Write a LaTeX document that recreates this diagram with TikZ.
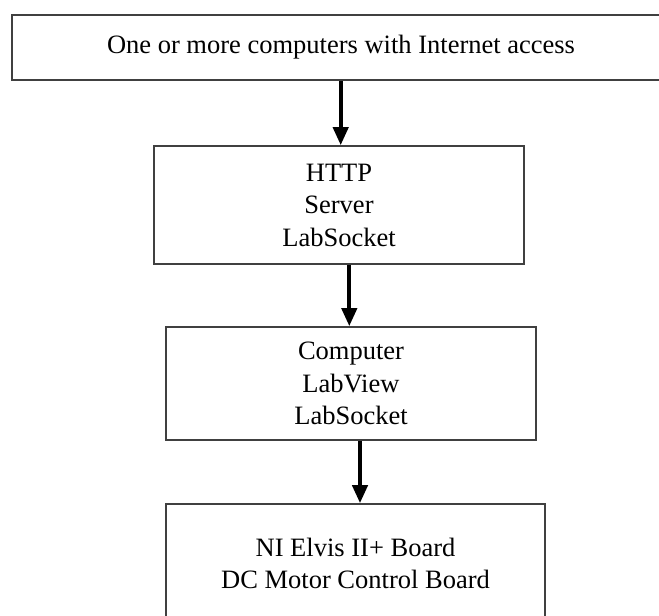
\documentclass[tikz,border=0pt]{standalone}
\usepackage{fontspec}
\setmainfont{Liberation Serif}
\usetikzlibrary{arrows.meta}
\begin{document}
\begin{tikzpicture}[x=1pt,y=-1pt,
  box/.style={draw=black!75, line width=1.6pt, align=center, inner sep=0pt,
    font=\fontsize{26.5}{32.5}\selectfont},
  txt/.style={align=center, inner sep=0pt, font=\fontsize{26.5}{32.5}\selectfont},
  arr/.style={line width=4pt, -{Triangle[width=15pt,length=18pt]}}]
\useasboundingbox (0,0) rectangle (659,616);
\node[box, minimum width=700pt, minimum height=65pt] (top) at (362,47.5) {};
\node[txt] (toptext) at (341,47.5) {One or more computers with Internet access};
\node[box, minimum width=370pt, minimum height=118pt] (http) at (339,205) {HTTP\\Server\\LabSocket};
\node[box, minimum width=370pt, minimum height=113pt] (comp) at (351,383.5) {Computer\\LabView\\LabSocket};
\node[box, minimum width=379pt, minimum height=119pt] (elvis) at (355.5,563.5) {NI Elvis II+ Board\\DC Motor Control Board};
\coordinate (a1) at (340.7,0);
\coordinate (a2) at (349.3,0);
\coordinate (a3) at (360,0);
\draw[arr] (top.south -| a1) -- (http.north -| a1);
\draw[arr] (http.south -| a2) -- (comp.north -| a2);
\draw[arr] (comp.south -| a3) -- (elvis.north -| a3);
\end{tikzpicture}
\end{document}
